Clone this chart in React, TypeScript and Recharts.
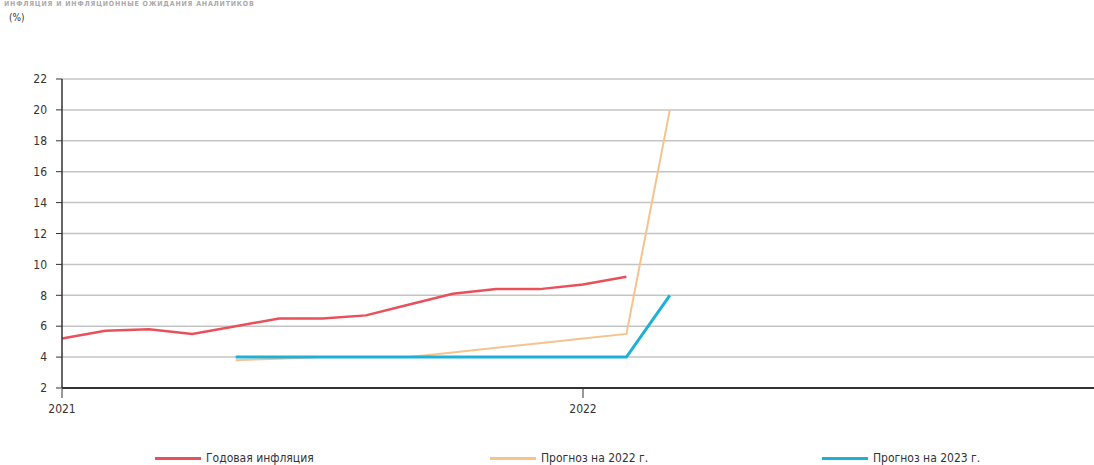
import React from 'react';
import { LineChart, Line, XAxis, YAxis, CartesianGrid } from 'recharts';

const monthLabels = ['2021-01','2021-02','2021-03','2021-04','2021-05','2021-06','2021-07','2021-08','2021-09','2021-10','2021-11','2021-12','2022-01','2022-02','2022-03'];
const annualInflation = [5.2, 5.7, 5.8, 5.5, 6.0, 6.5, 6.5, 6.7, 7.4, 8.1, 8.4, 8.4, 8.7, 9.2, null];
const forecast2022 = [null, null, null, null, 3.8, 3.9, 4.0, 4.0, 4.0, 4.3, 4.6, 4.9, 5.2, 5.5, 20.0];
const forecast2023 = [null, null, null, null, 4.0, 4.0, 4.0, 4.0, 4.0, 4.0, 4.0, 4.0, 4.0, 4.0, 8.0];
const yTicks = [2, 4, 6, 8, 10, 12, 14, 16, 18, 20, 22];
const xTicks = [0, 12];
const xTickLabels: Record<number, string> = { 0: '2021', 12: '2022' };
const seriesNames = ['Годовая инфляция', 'Прогноз на 2022 г.', 'Прогноз на 2023 г.'];
const seriesColors = ['#e8505b', '#f7c38c', '#1db1d9'];

const data = monthLabels.map((m, i) => ({
  x: i,
  month: m,
  infl: annualInflation[i],
  f22: forecast2022[i],
  f23: forecast2023[i],
}));

const FONT = '"DejaVu Sans Condensed", "Liberation Sans Narrow", "Liberation Sans", sans-serif';

const XTick = (props: any) => {
  const { x, y, payload } = props;
  return (
    <g>
      <line x1={x} x2={x} y1={y - 7} y2={y + 2} stroke="#333" strokeWidth={1} />
      <text x={x} y={y + 17} textAnchor="middle" fill="#333" fontSize={12} fontFamily={FONT}>
        {xTickLabels[payload.value]}
      </text>
    </g>
  );
};

export default function App() {
  return (
    <div style={{ position: 'absolute', left: 0, top: 0, width: 1094, height: 465, overflow: 'hidden', background: '#fff', fontFamily: FONT }}>
      <div style={{ position: 'absolute', left: 4, top: 0, fontSize: 7, lineHeight: '8px', fontWeight: 'bold', color: '#aaa', whiteSpace: 'nowrap', letterSpacing: 0.8 }}>
        ИНФЛЯЦИЯ И ИНФЛЯЦИОННЫЕ ОЖИДАНИЯ АНАЛИТИКОВ
      </div>
      <div style={{ position: 'absolute', left: 9, top: 12, fontSize: 10, color: '#333' }}>(%)</div>
      <div style={{ position: 'absolute', left: 0, top: 0 }}>
        <LineChart width={1104} height={420} data={data} margin={{ top: 79, right: 0, bottom: 0, left: 0 }}>
          <CartesianGrid vertical={false} stroke="#c4c4c4" strokeWidth={1.5} />
          <XAxis
            dataKey="x"
            type="number"
            domain={[0, 24]}
            ticks={xTicks}
            tick={<XTick />}
            tickLine={false}
            axisLine={{ stroke: '#333', strokeWidth: 2 }}
            height={32}
            interval={0}
          />
          <YAxis
            type="number"
            domain={[2, 22]}
            ticks={yTicks}
            width={62}
            tickSize={6}
            tickMargin={9}
            tickLine={{ stroke: '#333' }}
            axisLine={{ stroke: '#333', strokeWidth: 1.5 }}
            tick={{ fill: '#333', fontSize: 12, fontFamily: FONT }}
            interval={0}
          />
          <Line dataKey="infl" name={seriesNames[0]} stroke={seriesColors[0]} strokeWidth={2.5} dot={false} isAnimationActive={false} />
          <Line dataKey="f22" name={seriesNames[1]} stroke={seriesColors[1]} strokeWidth={2} dot={false} isAnimationActive={false} />
          <Line dataKey="f23" name={seriesNames[2]} stroke={seriesColors[2]} strokeWidth={3} dot={false} isAnimationActive={false} />
        </LineChart>
      </div>
      {seriesNames.map((n, i) => {
        const lefts = [155, 490, 822];
        return (
          <div key={n} style={{ position: 'absolute', left: lefts[i], top: 451, display: 'flex', alignItems: 'center', fontSize: 12, color: '#333' }}>
            <span style={{ display: 'inline-block', width: 46, height: 3, background: seriesColors[i], marginRight: 5 }} />
            <span>{n}</span>
          </div>
        );
      })}
    </div>
  );
}
